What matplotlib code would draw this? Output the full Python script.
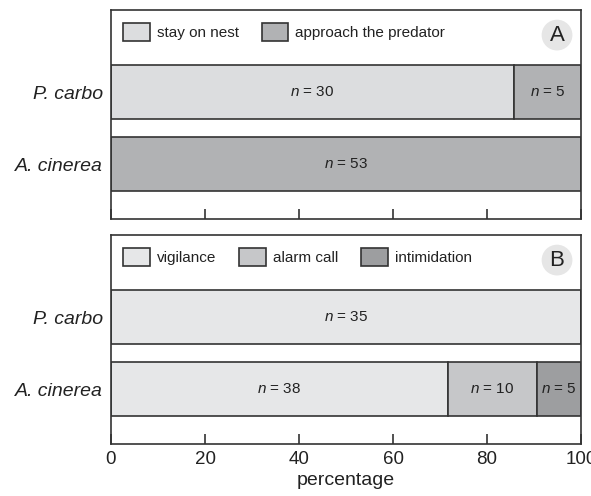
import matplotlib
matplotlib.use("Agg")
import matplotlib.pyplot as plt
import numpy as np

plt.rcParams["font.family"] = ["Liberation Sans", "DejaVu Sans"]
plt.rcParams["mathtext.fontset"] = "custom"
plt.rcParams["mathtext.it"] = "Liberation Sans:italic"
plt.rcParams["mathtext.rm"] = "Liberation Sans"

species = ["A. cinerea", "P. carbo"]

# panel A counts
behav_a = ["stay on nest", "approach the predator"]
stay_nest = [0, 30]
approach = [53, 5]

# panel B counts
behav_b = ["vigilance", "alarm call", "intimidation"]
vigilance = [38, 35]
alarm_call = [10, 0]
intimidation = [5, 0]

xticks = [0, 20, 40, 60, 80, 100]

colors_a = ["#dcdddf", "#b1b2b4"]
colors_b = ["#e6e7e8", "#c6c7c9", "#9d9ea0"]
edge = "#333333"
txt = "#222222"

fig = plt.figure(figsize=(5.91, 4.96), dpi=100)
ax_a = fig.add_axes([111 / 591, 1 - 219 / 496, 470 / 591, 209 / 496])
ax_b = fig.add_axes([111 / 591, 1 - 444 / 496, 470 / 591, 209 / 496])


def stacked(ax, series, names, colors, letter):
    series = np.array(series, dtype=float)
    totals = series.sum(axis=0)
    pct = series / totals * 100
    y = np.arange(len(species))
    left = np.zeros(len(species))
    handles = []
    for vals, counts, name, col in zip(pct, series, names, colors):
        bars = ax.barh(y, vals, left=left, height=0.75, color=col,
                       edgecolor=edge, linewidth=1.2, label=name, zorder=2)
        handles.append(bars)
        for yi, v, l, c in zip(y, vals, left, counts):
            if c > 0:
                ax.text(l + v / 2, yi, r"$n$ = %d" % c, ha="center", va="center",
                        fontsize=11, color=txt, zorder=3)
        left = left + vals
    ax.set_xlim(0, 100)
    ax.set_ylim(-0.76, 2.14)
    ax.set_yticks(y)
    ax.set_yticklabels(species, fontstyle="italic", fontsize=14, color=txt)
    ax.tick_params(axis="y", length=0, pad=6)
    ax.set_xticks(xticks)
    ax.tick_params(axis="x", direction="in", length=7, width=1.2, color=edge,
                   labelsize=13.5, labelcolor=txt, pad=5)
    for s in ax.spines.values():
        s.set_linewidth(1.2)
        s.set_color(edge)
    leg = ax.legend(handles=handles, loc="upper left", ncol=len(names),
                    bbox_to_anchor=(0.0, 0.995), frameon=False, fontsize=11,
                    handlelength=1.75, handleheight=1.45, handletextpad=0.45,
                    columnspacing=1.5, borderaxespad=0.4)
    for t in leg.get_texts():
        t.set_color(txt)
    ax.text(0.949, 0.88, letter, transform=ax.transAxes, ha="center",
            va="center", fontsize=16, color=txt,
            bbox=dict(boxstyle="circle,pad=0.22", facecolor="#e6e6e6",
                      edgecolor="none"))


stacked(ax_a, [stay_nest, approach], behav_a, colors_a, "A")
stacked(ax_b, [vigilance, alarm_call, intimidation], behav_b, colors_b, "B")
ax_a.set_xticklabels([])
ax_b.set_xlabel("percentage", fontsize=14, color=txt, labelpad=3)

fig.savefig("out.png", dpi=100)
